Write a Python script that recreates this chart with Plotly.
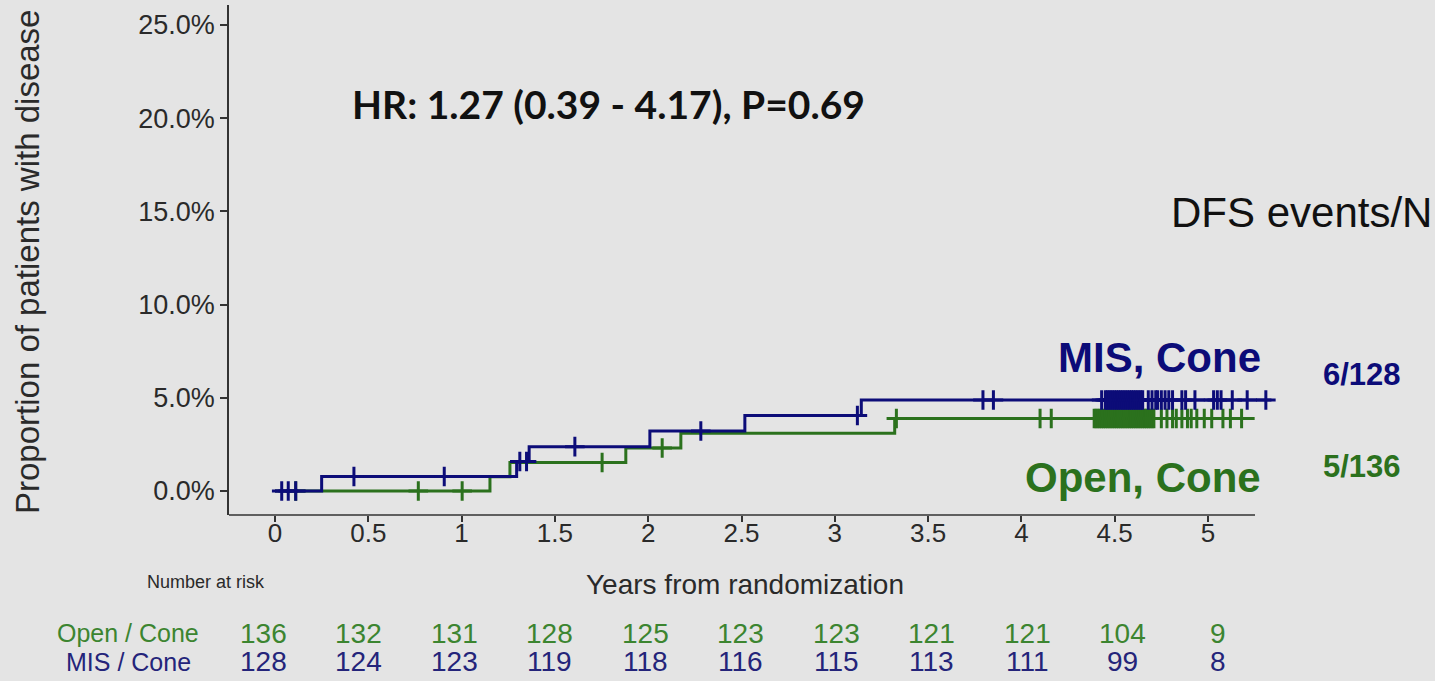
import numpy as np
import plotly.graph_objects as go

# ---- Cumulative incidence of disease (%), step functions ----
mis_event_times = [0.25, 1.295, 1.362, 2.009, 2.518, 3.142]
mis_levels = [0.78, 1.58, 2.38, 3.22, 4.05, 4.88]
mis_followup_end = 5.34
mis_censor_times = [
    0.036, 0.071, 0.111, 0.423, 0.907, 1.312, 1.348, 1.607, 2.282, 3.121,
    3.794, 3.850,
    4.43, 4.45, 4.46, 4.47, 4.48, 4.49, 4.50, 4.51, 4.52, 4.53, 4.54, 4.55,
    4.56, 4.57, 4.58, 4.59, 4.60, 4.61, 4.62, 4.63, 4.64, 4.65,
    4.68, 4.70, 4.72, 4.73, 4.75, 4.77, 4.79, 4.81, 4.86, 4.88, 4.93,
    5.03, 5.05, 5.07, 5.13, 5.21, 5.31,
]

open_event_times = [1.152, 1.259, 1.880, 2.175, 3.321]
open_levels = [0.76, 1.53, 2.31, 3.10, 3.89]
open_followup_end = 5.25
open_censor_times = [
    0.111, 0.768, 1.003, 1.753, 2.075, 3.33, 4.10, 4.16,
    4.39, 4.40, 4.41, 4.42, 4.43, 4.44, 4.45, 4.46, 4.47, 4.48, 4.49, 4.50,
    4.51, 4.52, 4.53, 4.54, 4.55, 4.56, 4.57, 4.58, 4.59, 4.60, 4.61, 4.62,
    4.63, 4.64, 4.65, 4.66, 4.67, 4.68, 4.69, 4.70, 4.71,
    4.75, 4.78, 4.81, 4.83, 4.86, 4.89, 4.91, 4.94, 4.98, 5.02, 5.08, 5.12, 5.18,
]

# ---- Number at risk table ----
risk_times = [0, 0.5, 1, 1.5, 2, 2.5, 3, 3.5, 4, 4.5, 5]
risk_open = [136, 132, 131, 128, 125, 123, 123, 121, 121, 104, 9]
risk_mis = [128, 124, 123, 119, 118, 116, 115, 113, 111, 99, 8]

x_ticks = [0, 0.5, 1, 1.5, 2, 2.5, 3, 3.5, 4, 4.5, 5]
x_ticktext = ["0", "0.5", "1", "1.5", "2", "2.5", "3", "3.5", "4", "4.5", "5"]
y_ticks = [0, 5, 10, 15, 20, 25]
y_ticktext = ["0.0%", "5.0%", "10.0%", "15.0%", "20.0%", "25.0%"]

NAVY = "#0c0c78"
GREEN = "#2b711d"
GREEN_TXT = "#3c8530"
NAVY_TXT = "#24247a"
BG = "#e4e4e4"
INK = "#2a2a2a"

W, H = 1435, 681
PL, PR, PT, PB = 229, 1275, 5, 515


def fx(px):
    return (px - PL) / (PR - PL)


def fy(py):
    return (PB - py) / (PB - PT)


def step_xy(times, levels, end):
    xs = [0] + list(times) + [end]
    ys = [0] + list(levels) + [levels[-1]]
    return xs, ys


def censor_y(times, event_times, levels):
    lv = np.array([0] + list(levels))
    idx = np.searchsorted(np.array(event_times), np.array(times), side="right")
    return lv[idx]


fig = go.Figure()

for ev, lv, end, cens, col in [
    (open_event_times, open_levels, open_followup_end, open_censor_times, GREEN),
    (mis_event_times, mis_levels, mis_followup_end, mis_censor_times, NAVY),
]:
    xs, ys = step_xy(ev, lv, end)
    fig.add_trace(go.Scatter(
        x=xs, y=ys, mode="lines", line=dict(color=col, width=3, shape="hv"),
        hoverinfo="skip", showlegend=False, cliponaxis=False,
    ))
    fig.add_trace(go.Scatter(
        x=cens, y=censor_y(cens, ev, lv), mode="markers",
        marker=dict(symbol="cross-thin", size=14, color=col,
                    line=dict(color=col, width=3)),
        hoverinfo="skip", showlegend=False, cliponaxis=False,
    ))

# invisible trace so the table axis exists
fig.add_trace(go.Scatter(x=[0], y=[0], xaxis="x2", mode="markers",
                         marker=dict(opacity=0), hoverinfo="skip", showlegend=False))

x0 = (PL - 275) / 186.6
x1 = (PR - 275) / 186.6
ymin = (491 - PB) / 18.64
ymax = (491 - PT) / 18.64

fig.update_layout(
    width=W, height=H, autosize=False,
    margin=dict(l=PL, r=W - PR, t=PT, b=H - PB),
    paper_bgcolor=BG, plot_bgcolor=BG,
    font=dict(family="Liberation Sans, Arial, sans-serif", color=INK),
    xaxis=dict(
        range=[x0, x1], showgrid=False, zeroline=False, showline=False,
        tickvals=x_ticks, ticktext=x_ticktext, ticks="outside", ticklen=6,
        tickwidth=1.5, tickcolor="#333333", ticklabelstandoff=-11,
        tickfont=dict(size=26, color=INK),
    ),
    xaxis2=dict(
        range=[(PL - 263.5) / 190.9, 5 + (PR - 1218) / 190.9],
        overlaying="x", visible=False, anchor="y",
    ),
    yaxis=dict(
        range=[ymin, ymax], showgrid=False, zeroline=False,
        showline=True, linecolor="#333333", linewidth=1.5,
        tickvals=y_ticks, ticktext=y_ticktext, ticks="outside", ticklen=7,
        tickwidth=1.5, tickcolor="#333333",
        tickfont=dict(size=27, color=INK),
    ),
)

# bottom axis line stops at the end of the time scale
fig.add_shape(type="line", xref="paper", yref="paper",
              x0=0, x1=fx(1255), y0=0, y1=0,
              line=dict(color="#333333", width=1.5))

ann = []
ann.append(dict(text="<b>HR: 1.27 (0.39 - 4.17), P=0.69</b>", x=fx(350), y=fy(104),
                xanchor="left", yanchor="middle",
                font=dict(family="Lato, sans-serif", size=39, color="#111111")))
ann.append(dict(text="DFS events/N", x=fx(1434), y=fy(212), xanchor="right",
                yanchor="middle", font=dict(size=42, color="#111111")))
ann.append(dict(text="<b>MIS, Cone</b>", x=fx(1263), y=fy(357), xanchor="right",
                yanchor="middle", font=dict(size=42, color=NAVY)))
ann.append(dict(text="<b>Open, Cone</b>", x=fx(1263), y=fy(477), xanchor="right",
                yanchor="middle", font=dict(size=42, color=GREEN)))
ann.append(dict(text="<b>6/128</b>", x=fx(1362), y=fy(374), xanchor="center",
                yanchor="middle", font=dict(size=31, color=NAVY)))
ann.append(dict(text="<b>5/136</b>", x=fx(1362), y=fy(466), xanchor="center",
                yanchor="middle", font=dict(size=31, color=GREEN)))
ann.append(dict(text="Proportion of patients with disease", x=fx(27), y=fy(262),
                textangle=-90, xanchor="center", yanchor="middle",
                font=dict(size=33, color=INK)))
ann.append(dict(text="Years from randomization", x=fx(745), y=fy(584),
                xanchor="center", yanchor="middle", font=dict(size=28, color=INK)))
ann.append(dict(text="Number at risk", x=fx(206), y=fy(582), xanchor="center",
                yanchor="middle", font=dict(size=18, color=INK)))
ann.append(dict(text="Open / Cone", x=fx(128), y=fy(633), xanchor="center",
                yanchor="middle", font=dict(size=25, color=GREEN_TXT)))
ann.append(dict(text="MIS / Cone", x=fx(128), y=fy(662), xanchor="center",
                yanchor="middle", font=dict(size=25, color=NAVY_TXT)))
for a in ann:
    a.update(xref="paper", yref="paper", showarrow=False)

for t, n_open, n_mis in zip(risk_times, risk_open, risk_mis):
    ann.append(dict(text=str(n_open), x=t, xref="x2", y=fy(633), yref="paper",
                    showarrow=False, xanchor="center", yanchor="middle",
                    font=dict(size=28, color=GREEN_TXT)))
    ann.append(dict(text=str(n_mis), x=t, xref="x2", y=fy(662), yref="paper",
                    showarrow=False, xanchor="center", yanchor="middle",
                    font=dict(size=28, color=NAVY_TXT)))

fig.update_layout(annotations=ann)
fig.write_html("out.html")
